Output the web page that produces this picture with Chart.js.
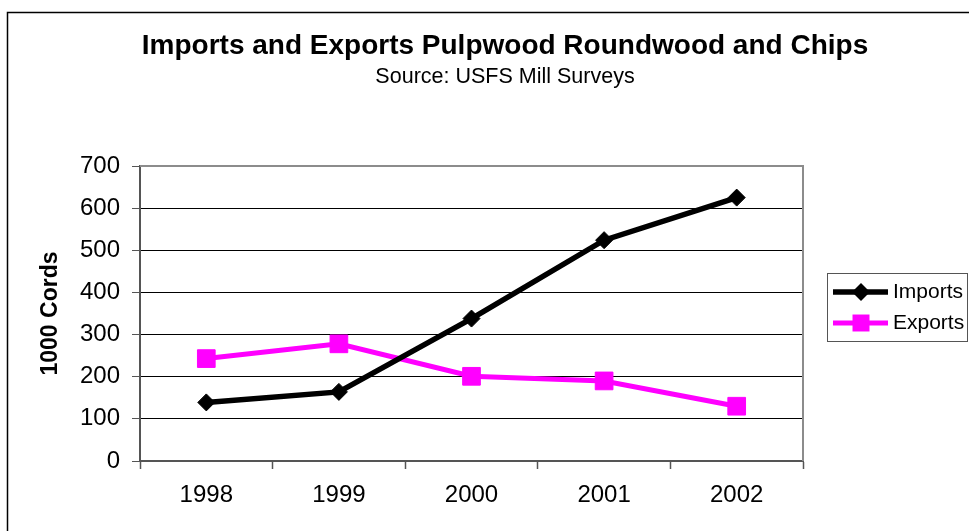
<!DOCTYPE html>
<html>
<head>
<meta charset="utf-8">
<script src="https://cdn.jsdelivr.net/npm/chart.js"></script>
<style>
  html, body { margin: 0; padding: 0; background: #ffffff; }
  #wrap { position: relative; width: 969px; height: 531px; overflow: hidden; }
</style>
</head>
<body>
<div id="wrap"><canvas id="chart-pulpwood" width="969" height="531"></canvas></div>
<script>
var years = ["1998", "1999", "2000", "2001", "2002"];
var importsValues = [139, 164, 338, 524, 625];
var exportsValues = [243, 278, 201, 190, 130];
var yTicks = [0, 100, 200, 300, 400, 500, 600, 700];
var titleText = "Imports and Exports Pulpwood Roundwood and Chips";
var subtitleText = "Source: USFS Mill Surveys";

var fontFamily = "'Liberation Sans', Arial, sans-serif";
Chart.defaults.font.family = fontFamily;
Chart.defaults.color = "#000000";

// outer frame, titles (centred on the whole sheet, not the plot) and plot border
var framePlugin = {
  id: "framePlugin",
  beforeDraw: function (chart) {
    var ctx = chart.ctx;
    ctx.save();
    ctx.fillStyle = "#ffffff";
    ctx.fillRect(0, 0, chart.width, chart.height);
    ctx.strokeStyle = "#000000";
    ctx.lineWidth = 1.5;
    ctx.strokeRect(7.5, 12.5, 1200, 1200);

    ctx.fillStyle = "#000000";
    ctx.textAlign = "center";
    ctx.textBaseline = "alphabetic";
    ctx.font = "bold 28px " + fontFamily;
    ctx.fillText(titleText, 505, 54);
    ctx.font = "21.5px " + fontFamily;
    ctx.fillText(subtitleText, 505, 83);
    ctx.restore();
  },
  afterDatasetsDraw: function (chart) {
    var a = chart.chartArea;
    var ctx = chart.ctx;
    ctx.save();
    ctx.strokeStyle = "#8c8c8c";
    ctx.lineWidth = 2;
    ctx.beginPath();
    ctx.moveTo(a.left, a.top);
    ctx.lineTo(a.right, a.top);
    ctx.lineTo(a.right, a.bottom);
    ctx.stroke();
    ctx.restore();
  }
};

// excel style legend: line with marker, boxed
function drawMarker(ctx, style, x, y, r) {
  ctx.beginPath();
  if (style === "rectRot") {
    ctx.moveTo(x, y - r);
    ctx.lineTo(x + r, y);
    ctx.lineTo(x, y + r);
    ctx.lineTo(x - r, y);
    ctx.closePath();
  } else {
    var s = r * Math.SQRT1_2;
    ctx.rect(x - s, y - s, 2 * s, 2 * s);
  }
  ctx.fill();
}

var boxLegend = {
  id: "boxLegend",
  afterDraw: function (chart) {
    var ctx = chart.ctx;
    var left = chart.chartArea.right + 24;
    var top = 273;
    ctx.save();
    ctx.strokeStyle = "#555555";
    ctx.lineWidth = 1;
    ctx.strokeRect(left + 0.5, top + 0.5, 140, 68);
    chart.data.datasets.forEach(function (ds, i) {
      var cy = top + 19 + i * 31;
      ctx.strokeStyle = ds.borderColor;
      ctx.fillStyle = ds.backgroundColor;
      ctx.lineWidth = ds.borderWidth;
      ctx.beginPath();
      ctx.moveTo(left + 6, cy);
      ctx.lineTo(left + 61, cy);
      ctx.stroke();
      drawMarker(ctx, ds.pointStyle, left + 34, cy, ds.pointStyle === "rectRot" ? 9 : 12);
      ctx.fillStyle = "#000000";
      ctx.font = "21px " + fontFamily;
      ctx.textBaseline = "middle";
      ctx.fillText(ds.label, left + 66, cy);
    });
    ctx.restore();
  }
};

new Chart("chart-pulpwood", {
  type: "line",
  data: {
    labels: years,
    datasets: [{
      label: "Imports",
      data: importsValues,
      borderColor: "#000000",
      backgroundColor: "#000000",
      borderWidth: 5.5,
      pointStyle: "rectRot",
      pointRadius: 8.5,
      pointHoverRadius: 8.5,
      pointBorderWidth: 1,
      tension: 0
    }, {
      label: "Exports",
      data: exportsValues,
      borderColor: "#ff00ff",
      backgroundColor: "#ff00ff",
      borderWidth: 5,
      pointStyle: "rect",
      pointRadius: 12.5,
      pointHoverRadius: 12.5,
      pointBorderWidth: 1,
      tension: 0
    }]
  },
  options: {
    responsive: false,
    animation: false,
    layout: { padding: { left: 0, right: 166, top: 166, bottom: 0 } },
    plugins: {
      legend: { display: false },
      tooltip: { enabled: false },
      title: { display: false }
    },
    scales: {
      x: {
        offset: true,
        grid: {
          offset: true,
          drawOnChartArea: false,
          tickLength: 8,
          tickColor: "#555555",
          tickWidth: 1.5
        },
        border: { color: "#555555", width: 2 },
        ticks: { font: { size: 24 }, padding: 12, color: "#000000" },
        afterFit: function (scale) { scale.height = 70; }
      },
      y: {
        min: 0,
        max: 700,
        afterBuildTicks: function (scale) {
          scale.ticks = yTicks.map(function (v) { return { value: v }; });
        },
        grid: {
          color: function (c) { return c.tick && c.tick.value === 700 ? "#8c8c8c" : "#000000"; },
          lineWidth: 1,
          tickLength: 8,
          tickColor: "#555555"
        },
        border: { color: "#555555", width: 2 },
        ticks: { font: { size: 24 }, padding: 12, color: "#000000" },
        title: {
          display: true,
          text: "1000 Cords",
          font: { size: 23, weight: "bold" },
          color: "#000000",
          padding: { top: 37, bottom: 0 }
        },
        afterFit: function (scale) { scale.width = 140; }
      }
    }
  },
  plugins: [framePlugin, boxLegend]
});
</script>
</body>
</html>
